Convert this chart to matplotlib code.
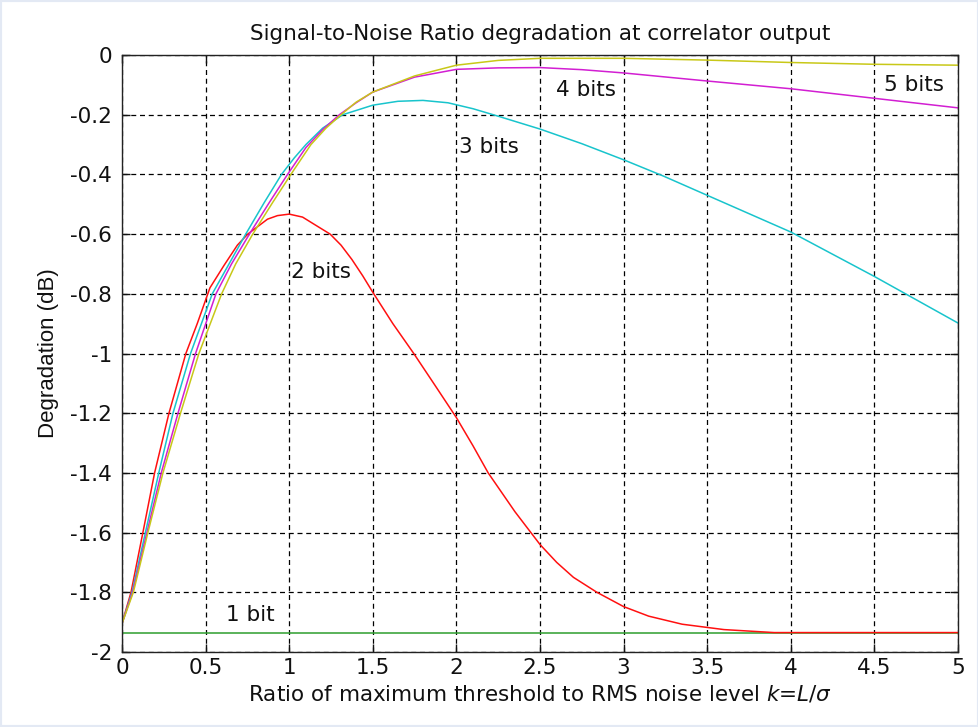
import matplotlib
matplotlib.use("Agg")
import matplotlib.pyplot as plt
from matplotlib.patches import Rectangle

plt.rcParams["font.family"] = ["DejaVu Sans"]
plt.rcParams["mathtext.fontset"] = "dejavusans"

# values
x_1bit = [0, 5]
y_1bit = [-1.935, -1.935]

x_2bit = [0, 0.054, 0.125, 0.195, 0.281, 0.382, 0.45, 0.526, 0.61, 0.69, 0.752,
          0.87, 0.93, 1.0, 1.08, 1.155, 1.245, 1.31, 1.375, 1.44, 1.5, 1.62,
          1.745, 1.87, 2.0, 2.1, 2.19, 2.35, 2.5, 2.6, 2.7, 2.84, 3.0, 3.15,
          3.35, 3.6, 3.9, 5.0]
y_2bit = [-1.905, -1.8, -1.6, -1.4, -1.2, -1.0, -0.9, -0.78, -0.705, -0.637, -0.6,
          -0.55, -0.538, -0.533, -0.543, -0.569, -0.6, -0.637, -0.685, -0.74, -0.795, -0.9,
          -1.0, -1.105, -1.215, -1.31, -1.4, -1.53, -1.64, -1.70, -1.75, -1.8, -1.848, -1.88,
          -1.907, -1.925, -1.935, -1.935]

x_3bit = [0, 0.06, 0.14, 0.22, 0.305, 0.41, 0.54, 0.63, 0.74, 0.85, 0.954, 1.03,
          1.10, 1.2, 1.32, 1.5, 1.65, 1.8, 1.95, 2.1, 2.25, 2.5, 2.75, 3.0, 3.24,
          3.5, 4.0, 4.5, 5.0]
y_3bit = [-1.905, -1.8, -1.6, -1.4, -1.2, -1.0, -0.8, -0.71, -0.6, -0.495, -0.4, -0.345,
          -0.3, -0.245, -0.2, -0.168, -0.155, -0.152, -0.16, -0.18, -0.205, -0.248, -0.297,
          -0.351, -0.406, -0.47, -0.593, -0.742, -0.898]

x_4bit = [0, 0.064, 0.149, 0.235, 0.335, 0.44, 0.562, 0.655, 0.762, 0.88, 0.99, 1.1,
          1.2, 1.3, 1.4, 1.5, 1.75, 2.0, 2.25, 2.5, 2.75, 3.0, 3.5, 4.0, 4.5, 5.0]
y_4bit = [-1.905, -1.8, -1.6, -1.4, -1.2, -1.0, -0.8, -0.7, -0.6, -0.495, -0.4, -0.31,
          -0.25, -0.2, -0.16, -0.124, -0.074, -0.048, -0.043, -0.042, -0.049, -0.06, -0.087,
          -0.113, -0.145, -0.177]

x_5bit = [0, 0.068, 0.155, 0.245, 0.35, 0.46, 0.596, 0.68, 0.782, 0.9, 1.01, 1.13,
          1.22, 1.31, 1.4, 1.5, 1.75, 2.0, 2.25, 2.5, 3.0, 3.5, 4.0, 4.5, 5.0]
y_5bit = [-1.905, -1.8, -1.6, -1.4, -1.2, -1.0, -0.8, -0.7, -0.6, -0.495, -0.4, -0.3,
          -0.245, -0.2, -0.158, -0.124, -0.07, -0.034, -0.018, -0.011, -0.011, -0.017,
          -0.025, -0.031, -0.034]

x_ticks = [0, 0.5, 1, 1.5, 2, 2.5, 3, 3.5, 4, 4.5, 5]
x_ticklabels = ["0", "0.5", "1", "1.5", "2", "2.5", "3", "3.5", "4", "4.5", "5"]
y_ticks = [0, -0.2, -0.4, -0.6, -0.8, -1, -1.2, -1.4, -1.6, -1.8, -2]
y_ticklabels = ["0", "-0.2", "-0.4", "-0.6", "-0.8", "-1", "-1.2", "-1.4", "-1.6", "-1.8", "-2"]

# label text and where it sits (data coords)
labels = ["1 bit", "2 bits", "3 bits", "4 bits", "5 bits"]
label_x = [0.766, 1.19, 2.195, 2.775, 4.737]
label_y = [-1.876, -0.727, -0.308, -0.118, -0.10]

TXT = "#111111"
FS = 15.5


def main():
    fig = plt.figure(figsize=(9.79, 7.27), dpi=100)
    fig.patches.append(Rectangle((0, 0), 1, 1, transform=fig.transFigure,
                                 fill=False, edgecolor="#e3e9f4", linewidth=3))
    ax = fig.add_axes([0.1246, 0.1032, 0.8540, 0.8211])

    ax.plot(x_1bit, y_1bit, color="#2e9e2e", lw=1.1)
    ax.plot(x_2bit, y_2bit, color="#ff1010", lw=1.1)
    ax.plot(x_3bit, y_3bit, color="#18c4cc", lw=1.1)
    ax.plot(x_4bit, y_4bit, color="#d21ed2", lw=1.1)
    ax.plot(x_5bit, y_5bit, color="#c8c818", lw=1.1)

    for t, tx, ty in zip(labels, label_x, label_y):
        ax.text(tx, ty, t, ha="center", va="center", fontsize=FS, color=TXT)

    ax.set_xlim(0, 5)
    ax.set_ylim(-2, 0)
    ax.set_xticks(x_ticks)
    ax.set_xticklabels(x_ticklabels)
    ax.set_yticks(y_ticks)
    ax.set_yticklabels(y_ticklabels)
    ax.tick_params(direction="in", length=6, width=1.0, top=True, right=True,
                   labelsize=FS, colors=TXT)
    ax.tick_params(axis="x", pad=4)
    ax.tick_params(axis="y", pad=7)
    ax.grid(True, color="black", linestyle=(0, (4, 3)), linewidth=0.9)
    for s in ax.spines.values():
        s.set_linewidth(1.0)
        s.set_color("#222222")

    ax.set_title("Signal-to-Noise Ratio degradation at correlator output",
                 fontsize=FS, pad=11, color=TXT)
    ax.set_xlabel(r"Ratio of maximum threshold to RMS noise level $k$=$L$/$\sigma$",
                  fontsize=FS, labelpad=4, color=TXT)
    ax.set_ylabel("Degradation (dB)", fontsize=16, labelpad=8, color=TXT,
                  family="Liberation Sans")

    fig.savefig("out.png", dpi=100)
    plt.close(fig)


if __name__ == "__main__":
    main()
